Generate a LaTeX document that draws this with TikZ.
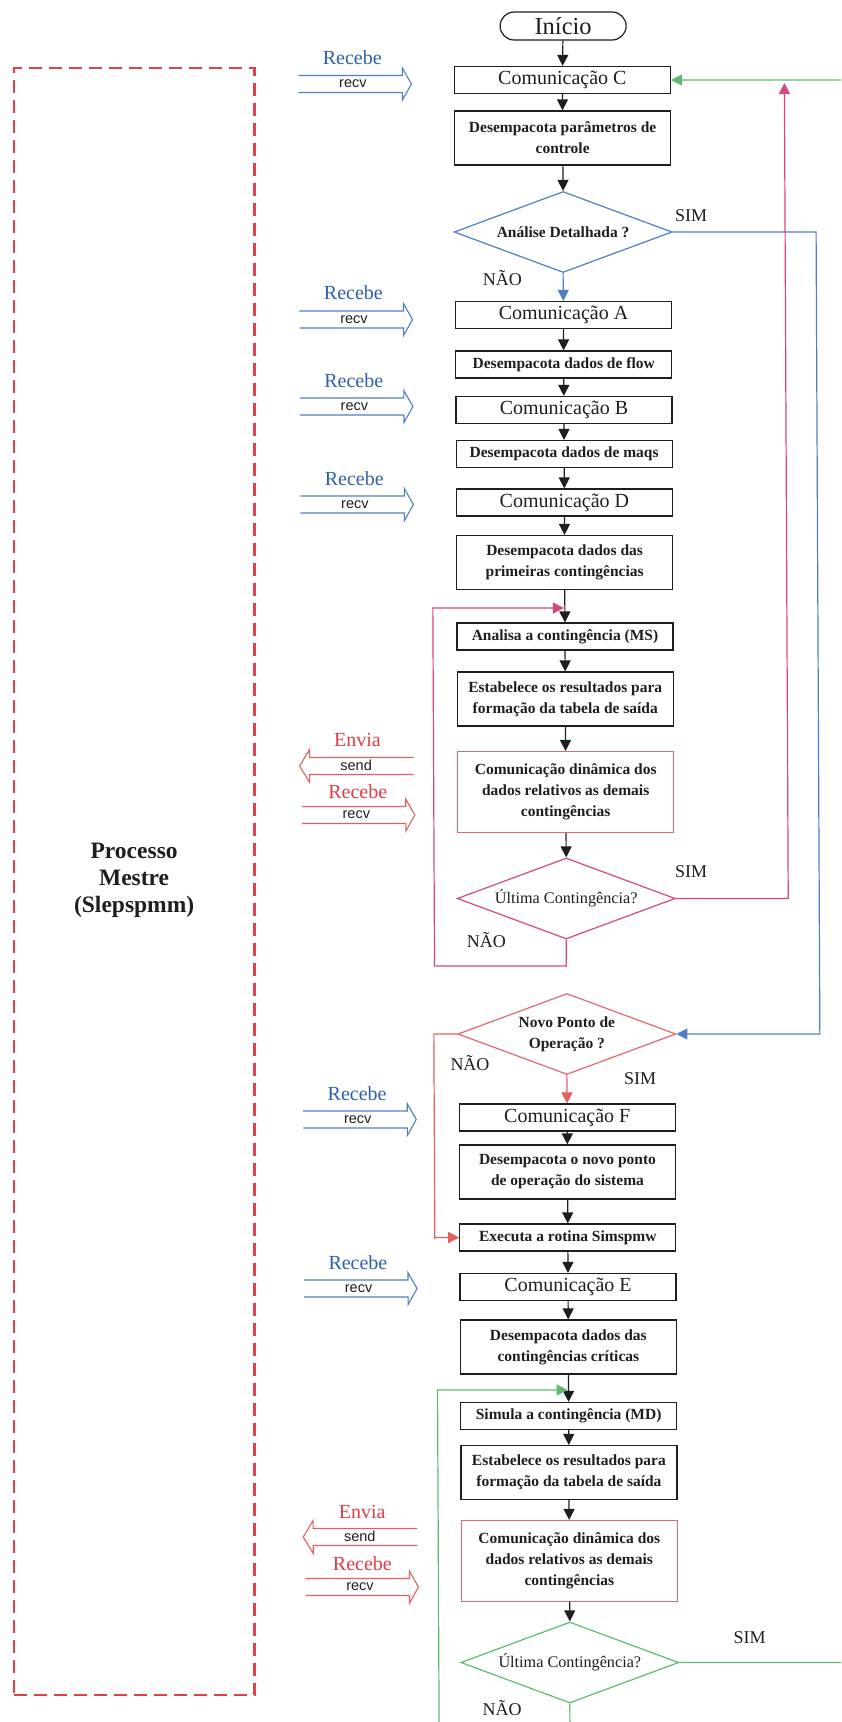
\documentclass[tikz,border=0pt]{standalone}
\usepackage{fontspec}
\setmainfont{Liberation Serif}
\setsansfont{Liberation Sans}
\usetikzlibrary{arrows.meta,shapes.geometric}

\definecolor{ink}{RGB}{30,30,30}
\definecolor{inkblue}{RGB}{45,95,175}
\definecolor{lineblue}{RGB}{80,125,195}
\definecolor{inkred}{RGB}{225,60,70}
\definecolor{linered}{RGB}{230,95,95}
\definecolor{boxred}{RGB}{225,105,110}
\definecolor{magline}{RGB}{215,70,130}
\definecolor{greenline}{RGB}{95,185,110}
\definecolor{dashred}{RGB}{225,65,75}

\tikzset{
  stepbox/.style={draw=ink, line width=1.2pt, minimum width=216pt, minimum height=27pt,
    inner sep=0pt, align=center, text=ink, font=\fontsize{15.5}{21}\selectfont\bfseries},
  commbox/.style={stepbox, font=\fontsize{20}{23}\selectfont},
  tallbox/.style={minimum height=54pt},
  dynbox/.style={stepbox, draw=boxred, minimum height=81pt},
  startbox/.style={draw=ink, line width=1.2pt, minimum width=126pt, minimum height=28pt,
    rounded corners=14pt, inner sep=0pt, text=ink, font=\fontsize{24.5}{28}\selectfont},
  decision/.style={diamond, shape aspect=2.7, minimum width=218pt, minimum height=81pt,
    inner sep=0pt, line width=1.2pt, align=center, text=ink},
  boldtxt/.style={font=\fontsize{15.5}{21}\selectfont\bfseries},
  regtxt/.style={font=\fontsize{16.2}{21}\selectfont},
  answer/.style={text=ink, inner sep=0pt, font=\fontsize{18}{21}\selectfont},
  msglabel/.style={inner sep=0pt, font=\fontsize{20}{22}\selectfont},
  tag/.style={inner sep=0pt, text=ink, font=\sffamily\fontsize{14.5}{16}\selectfont},
  flow/.style={draw=ink, line width=1.2pt, -{Triangle[length=11pt,width=11pt]}},
  blueflow/.style={flow, draw=lineblue},
  redflow/.style={flow, draw=linered},
  magflow/.style={flow, draw=magline},
  greenflow/.style={flow, draw=greenline},
}

% incoming message arrow (points right), #1 = centre y, #2 = colour
\newcommand\recvarrow[2]{%
  \draw[#2, line width=1.1pt, line join=miter]
    (298,#1-8.5) -- (402,#1-8.5) -- (402,#1-16) -- (411,#1)
    -- (402,#1+16) -- (402,#1+8.5) -- (298,#1+8.5);}
% outgoing message arrow (points left)
\newcommand\sendarrow[2]{%
  \draw[#2, line width=1.1pt, line join=miter]
    (410,#1-8.5) -- (306,#1-8.5) -- (306,#1-16.5) -- (296,#1)
    -- (306,#1+16.5) -- (306,#1+8.5) -- (410,#1+8.5);}

\begin{document}
\begin{tikzpicture}[x=1pt,y=-1pt]
\useasboundingbox (0,0) rectangle (841,1722);
\clip (0,0) rectangle (841,1722);
\begin{scope}[xslant=-0.0047]

% master process frame
\node[draw=dashred, line width=2.4pt, dash pattern=on 13pt off 7pt,
      minimum width=240.5pt, minimum height=1627pt, inner sep=0pt] (frame) at (130,881.5) {};
\node[align=center, text=ink, font=\fontsize{23.5}{27}\selectfont\bfseries] (proc) at (130,880)
  {Processo\\Mestre\\(Slepspmm)};

% main column
\node[startbox] (ini) at (563,26) {Início};
\node[commbox] (comC) at (562,80) {Comunicação C};
\node[stepbox,tallbox] (despar) at (562,138) {Desempacota parâmetros de\\controle};
\node[decision, draw=lineblue, boldtxt] (anal) at (562,232) {Análise Detalhada ?};
\node[commbox] (comA) at (562,315) {Comunicação A};
\node[stepbox] (flowb) at (562,364.5) {Desempacota dados de flow};
\node[commbox] (comB) at (562,410) {Comunicação B};
\node[stepbox] (maqs) at (562,454) {Desempacota dados de maqs};
\node[commbox] (comD) at (562,502.5) {Comunicação D};
\node[stepbox,tallbox] (prim) at (562,562.5) {Desempacota dados das\\primeiras contingências};
\node[stepbox] (anms) at (562,636.5) {Analisa a contingência (MS)};
\node[stepbox,tallbox] (est1) at (562,699) {Estabelece os resultados para\\formação da tabela de saída};
\node[dynbox] (dyn1) at (562,792) {Comunicação dinâmica dos\\dados relativos as demais\\contingências};
\node[decision, draw=magline, regtxt] (ult1) at (562,898.5) {Última Contingência?};
\node[decision, draw=boxred, boldtxt] (novo) at (562,1034) {Novo Ponto de\\Operação ?};
\node[commbox] (comF) at (562,1117.5) {Comunicação F};
\node[stepbox,tallbox] (novop) at (562,1172) {Desempacota o novo ponto\\de operação do sistema};
\node[stepbox] (exec) at (562,1237.5) {Executa a rotina Simspmw};
\node[commbox] (comE) at (562,1287) {Comunicação E};
\node[stepbox,tallbox] (crit) at (562,1347) {Desempacota dados das\\contingências críticas};
\node[stepbox] (simd) at (562,1416) {Simula a contingência (MD)};
\node[stepbox,tallbox] (est2) at (562,1472.5) {Estabelece os resultados para\\formação da tabela de saída};
\node[dynbox] (dyn2) at (562,1561) {Comunicação dinâmica dos\\dados relativos as demais\\contingências};
\node[decision, draw=greenline, regtxt] (ult2) at (562,1662.5) {Última Contingência?};

% answers
\node[answer] (sim1) at (690,216) {SIM};
\node[answer] (nao1) at (501,278) {NÃO};
\node[answer] (sim2) at (687,872) {SIM};
\node[answer] (nao2) at (482,940) {NÃO};
\node[answer] (nao3) at (465,1063) {NÃO};
\node[answer] (sim3) at (635,1079) {SIM};
\node[answer] (sim4) at (742,1638) {SIM};
\node[answer] (nao4) at (494,1708) {NÃO};

% straight flow
\draw[flow] (ini) -- (comC);
\draw[flow] (comC) -- (despar);
\draw[flow] (despar) -- (anal.north);
\draw[blueflow] (anal.south) -- (comA);
\draw[flow] (comA) -- (flowb);
\draw[flow] (flowb) -- (comB);
\draw[flow] (comB) -- (maqs);
\draw[flow] (maqs) -- (comD);
\draw[flow] (comD) -- (prim);
\draw[flow] (prim) -- (anms);
\draw[flow] (anms) -- (est1);
\draw[flow] (est1) -- (dyn1);
\draw[flow] (dyn1) -- (ult1.north);
\draw[redflow] (novo.south) -- (comF);
\draw[flow] (comF) -- (novop);
\draw[flow] (novop) -- (exec);
\draw[flow] (exec) -- (comE);
\draw[flow] (comE) -- (crit);
\draw[flow] (crit) -- (simd);
\draw[flow] (simd) -- (est2);
\draw[flow] (est2) -- (dyn2);
\draw[flow] (dyn2) -- (ult2.north);

% loops and branches
\coordinate (mBL) at (430,966);
\coordinate (mJoin) at (561,608);
\coordinate (mTop) at (784,83);
\coordinate (bR) at (815,1034);
\coordinate (rL) at (429,1239);
\coordinate (gR) at (852,900);
\coordinate (gBL) at (431,1745);
\coordinate (gJoin) at (561,1390);

\draw[magflow] (ult1.south) |- (mBL) |- (mJoin);
\draw[magflow] (ult1.east) -| (mTop);
\draw[blueflow] (anal.east) -| (bR) -- (novo.east);
\draw[redflow] (novo.west) -| (rL) |- (exec.west);
\draw[greenflow] (ult2.east) -| (gR) |- (comC.east);
\draw[greenflow] (ult2.south) |- (gBL) |- (gJoin);

% message exchange with the workers
\node[msglabel, text=inkblue] (rc1) at (352,58) {Recebe};
\recvarrow{84}{lineblue}
\node[tag] (rv1) at (352.5,84) {recv};

\node[msglabel, text=inkblue] (rc2) at (352,293) {Recebe};
\recvarrow{319.5}{lineblue}
\node[tag] (rv2) at (352.5,319.5) {recv};

\node[msglabel, text=inkblue] (rc3) at (352,381) {Recebe};
\recvarrow{406.5}{lineblue}
\node[tag] (rv3) at (352.5,406.5) {recv};

\node[msglabel, text=inkblue] (rc4) at (352,479) {Recebe};
\recvarrow{504.5}{lineblue}
\node[tag] (rv4) at (352.5,504.5) {recv};

\node[msglabel, text=inkred] (en1) at (354,740) {Envia};
\sendarrow{766}{linered}
\node[tag] (sd1) at (352.5,765) {send};
\node[msglabel, text=inkred] (rc5) at (354,792) {Recebe};
\recvarrow{815}{linered}
\node[tag] (rv5) at (352.5,815) {recv};

\node[msglabel, text=inkblue] (rc6) at (352,1094) {Recebe};
\recvarrow{1119.5}{lineblue}
\node[tag] (rv6) at (352.5,1119.5) {recv};

\node[msglabel, text=inkblue] (rc7) at (352,1263) {Recebe};
\recvarrow{1288.5}{lineblue}
\node[tag] (rv7) at (352.5,1288.5) {recv};

\node[msglabel, text=inkred] (en2) at (355,1512) {Envia};
\sendarrow{1537}{linered}
\node[tag] (sd2) at (352.5,1536) {send};
\node[msglabel, text=inkred] (rc8) at (355,1564) {Recebe};
\recvarrow{1587}{linered}
\node[tag] (rv8) at (352.5,1587) {recv};

\end{scope}
\end{tikzpicture}
\end{document}
